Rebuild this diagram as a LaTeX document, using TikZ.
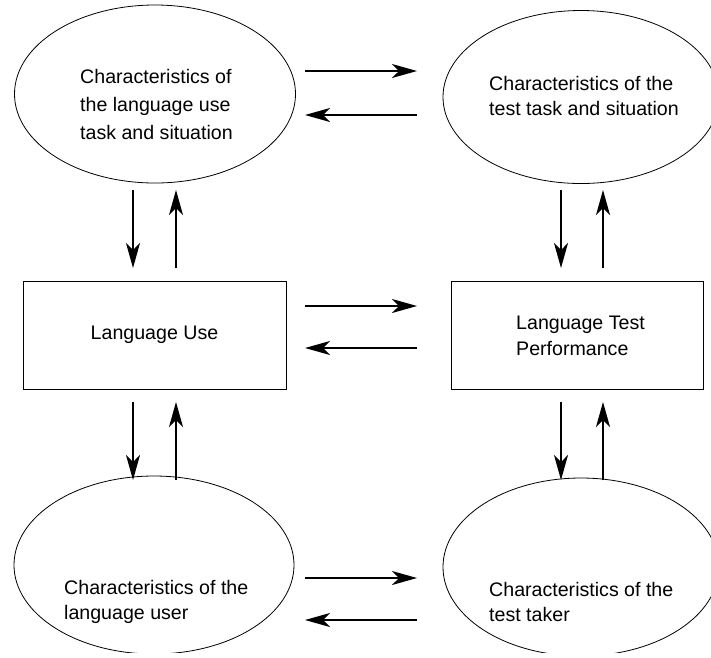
\documentclass[tikz,border=0pt]{standalone}
\usepackage{fontspec}
\setmainfont{Liberation Sans}
\usetikzlibrary{shapes.geometric,arrows.meta}
\begin{document}
\begin{tikzpicture}[x=1pt,y=-1pt,
  oval/.style={draw,ellipse,line width=0.8pt,inner sep=0pt},
  box/.style={draw,rectangle,line width=0.8pt,inner sep=0pt},
  txt/.style={font=\fontsize{19.6}{25.5}\selectfont,align=left,inner sep=0pt,anchor=west},
  arr/.style={line width=1.4pt,-{Stealth[length=25pt,width=14pt,inset=7pt]}}]
\useasboundingbox (0,0) rectangle (711,657);
\clip (0,0) rectangle (711,652);
% nodes
\node[oval,minimum width=281pt,minimum height=178pt] (e1) at (155,94) {};
\node[oval,minimum width=276pt,minimum height=173pt] (e2) at (581,97) {};
\node[oval,minimum width=280pt,minimum height=178pt] (e3) at (154,565) {};
\node[oval,minimum width=276pt,minimum height=178pt] (e4) at (581,567) {};
\node[txt,font=\fontsize{19.6}{28}\selectfont] (t1) at (80,104) {Characteristics of\\the language use\\task and situation};
\node[txt] (t2) at (489,96) {Characteristics of the\\test task and situation};
\node[txt] (t3) at (64,602) {Characteristics of the\\language user};
\node[txt] (t4) at (489,602) {Characteristics of the\\test taker};
\node[box,minimum width=263pt,minimum height=108pt] (r1) at (154.5,335) {};
\node[box,minimum width=252pt,minimum height=108pt] (r2) at (577,335) {};
\node[txt,anchor=center] (l1) at (154.5,335) {Language Use};
\node[txt] (l2) at (516,336) {Language Test\\Performance};
% arrow end points
\foreach \y/\n in {71/a,115/b,306/c,348/d,578/e,620/f}{
  \coordinate (\n L) at (305,\y);
  \coordinate (\n R) at (417,\y);
}
\foreach \x/\n in {133/g,176/h,561/i,603/j}{
  \coordinate (\n 1) at (\x,190);
  \coordinate (\n 2) at (\x,268);
  \coordinate (\n 3) at (\x,402);
  \coordinate (\n 4) at (\x,480);
}
\draw[arr] (aL) -- (aR);
\draw[arr] (bR) -- (bL);
\draw[arr] (cL) -- (cR);
\draw[arr] (dR) -- (dL);
\draw[arr] (eL) -- (eR);
\draw[arr] (fR) -- (fL);
\draw[arr] (g1) -- (g2);
\draw[arr] (h2) -- (h1);
\draw[arr] (g3) -- (g4);
\draw[arr] (h4) -- (h3);
\draw[arr] (i1) -- (i2);
\draw[arr] (j2) -- (j1);
\draw[arr] (i3) -- (i4);
\draw[arr] (j4) -- (j3);
\end{tikzpicture}
\end{document}
